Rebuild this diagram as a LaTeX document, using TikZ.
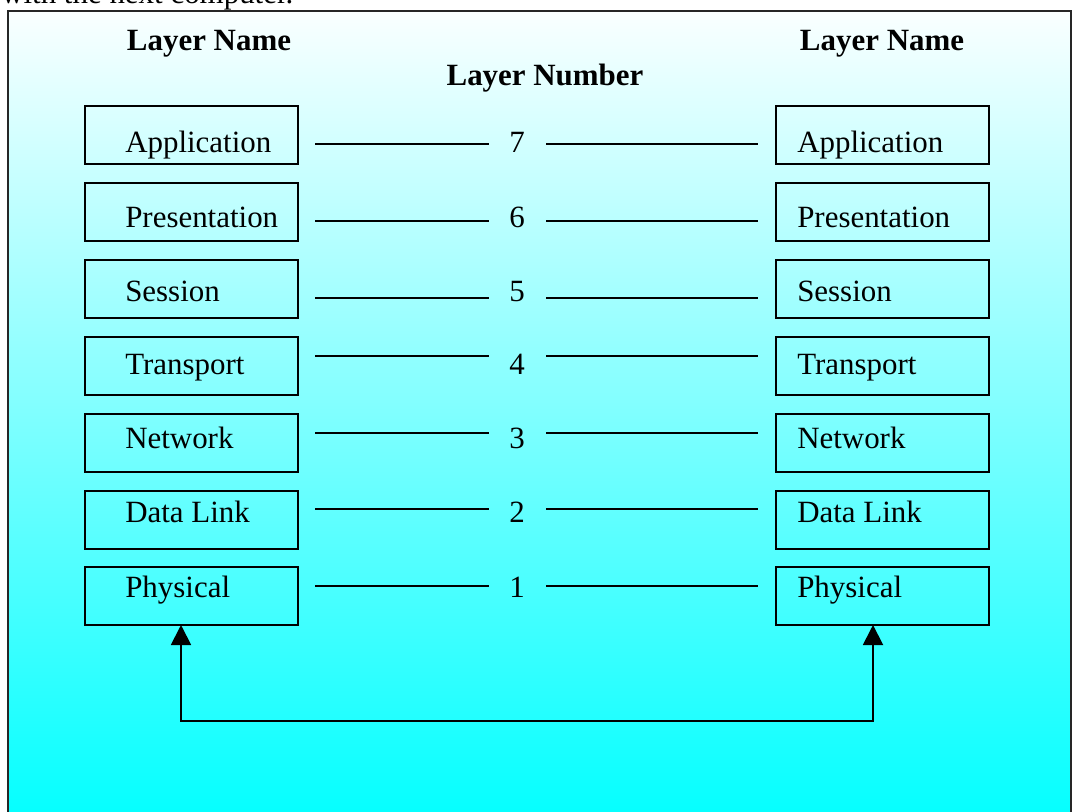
\documentclass[tikz,border=0pt]{standalone}
\usepackage{fontspec}
\setmainfont{Liberation Serif}
\usepackage{xcolor}
\usetikzlibrary{calc,positioning,arrows.meta}

\begin{document}
\begin{tikzpicture}[x=0.75pt,y=-0.75pt,
	layerbox/.style={draw,line width=1.4pt,minimum width=159.75pt,minimum height=43.5pt,inner sep=0pt,outer sep=0pt,anchor=north west},
	laytext/.style={anchor=base west,inner sep=0pt,font=\fontsize{23.2}{28}\selectfont},
	headtext/.style={anchor=base,inner sep=0pt,font=\fontsize{23.2}{28}\selectfont\bfseries},
	link/.style={line width=1.4pt},
	phytip/.tip={Triangle[width=15pt,length=15pt]}]
	\useasboundingbox (0,0) rectangle (1073,812);
	\clip (0,0) rectangle (1073,812);
	\node[laytext] (intro) at (1,4) {with the next computer.};
	% frame with the light cyan fill
	\shade[top color=cyan!2,bottom color=cyan] (8,11) rectangle (1071,830);
	\draw[line width=1.8pt,black!85] (8,11) rectangle (1071,830);
	\node[headtext] (nameL) at (209,51) {Layer Name};
	\node[headtext] (nameR) at (882,51) {Layer Name};
	\node[headtext] (number) at (545,86) {Layer Number};
	% the seven layers on both sides
	\foreach \n/\name/\top/\base/\ly in {7/Application/106/153/144, 6/Presentation/183/228/221,
		5/Session/260/302/298, 4/Transport/337/375/356, 3/Network/414/448/433,
		2/Data Link/491/522/509, 1/Physical/567/597/586}{
		\node[layerbox] (L\n) at (85,\top) {};
		\node[layerbox] (R\n) at (776,\top) {};
		\node[laytext] (Lt\n) at (125,\base) {\name};
		\node[laytext] (Rt\n) at (797,\base) {\name};
		\node[laytext,anchor=base] (N\n) at (517,\base) {\n};
		\coordinate (a\n) at (315,\ly);
		\coordinate (b\n) at (489,\ly);
		\coordinate (c\n) at (546,\ly);
		\coordinate (d\n) at (758,\ly);
		\draw[link] (a\n) -- (b\n);
		\draw[link] (c\n) -- (d\n);
	}
	% physical link between the two computers
	\coordinate (bl) at (181,721);
	\coordinate (br) at (873,721);
	\draw[link,phytip-phytip] (bl |- L1.south) -- (bl) -- (br) -- (br |- R1.south);
\end{tikzpicture}
\end{document}
